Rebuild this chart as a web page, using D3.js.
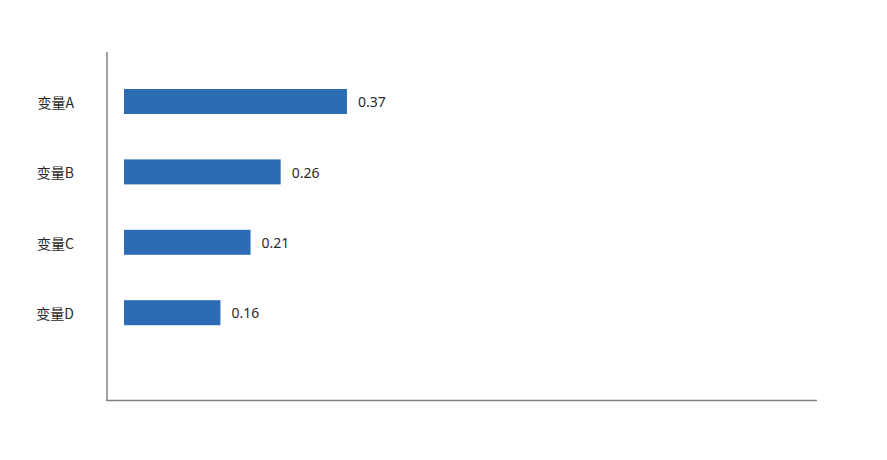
<!DOCTYPE html>
<html lang="zh">
<head>
    <meta charset="UTF-8">
    <title>变量</title>
    <script src="https://d3js.org/d3.v7.min.js"></script>
    <style>
        body {
            margin: 0;
            background: #fff;
        }

        .label text {
            font-family: "Noto Sans CJK SC", "Noto Sans", sans-serif;
            font-size: 14px;
            fill: #2a2a2a;
        }

        .value {
            font-family: "Noto Sans", "Noto Sans CJK SC", sans-serif;
            font-size: 14px;
            fill: #2a2a2a;
        }
    </style>
</head>
<body>
    <div id="chart"></div>
    <script>
        const categories = ['变量A', '变量B', '变量C', '变量D'];
        const values = [0.37, 0.26, 0.21, 0.16];

        const width = 887;
        const height = 460;

        // plot frame
        const frame = { left: 107, right: 817, top: 52, bottom: 400.5 };

        const svg = d3.select("#chart")
            .append("svg")
            .attr("width", width)
            .attr("height", height);

        const x = d3.scaleLinear()
            .domain([0, 1.15])
            .range([124, frame.right]);

        const y = d3.scaleBand()
            .domain(categories)
            .range([66.3, 347.9])
            .paddingInner(0.645)
            .paddingOuter(0.3225);

        svg.append("g")
            .selectAll("rect")
            .data(values)
            .join("rect")
            .attr("x", x(0))
            .attr("y", (d, i) => y(categories[i]))
            .attr("width", d => x(d) - x(0))
            .attr("height", y.bandwidth())
            .attr("fill", "#2b6cb5");

        svg.append("g")
            .selectAll("text")
            .data(values)
            .join("text")
            .attr("class", "value")
            .attr("x", d => x(d) + 11)
            .attr("y", (d, i) => y(categories[i]) + y.bandwidth() / 2)
            .attr("dy", "0.4em")
            .text(d => d.toFixed(2));

        // category labels
        svg.append("g")
            .attr("class", "label")
            .attr("transform", `translate(${frame.left},0)`)
            .call(d3.axisLeft(y).tickSize(0).tickPadding(33))
            .call(g => g.select(".domain").remove())
            .selectAll("text")
            .attr("dy", "0.45em");

        // axis lines
        svg.append("line")
            .attr("x1", frame.left)
            .attr("x2", frame.left)
            .attr("y1", frame.top)
            .attr("y2", frame.bottom)
            .attr("stroke", "#808080")
            .attr("stroke-width", 1.5);

        svg.append("line")
            .attr("x1", frame.left - 0.75)
            .attr("x2", frame.right)
            .attr("y1", frame.bottom)
            .attr("y2", frame.bottom)
            .attr("stroke", "#808080")
            .attr("stroke-width", 1.5);
    </script>
</body>
</html>
